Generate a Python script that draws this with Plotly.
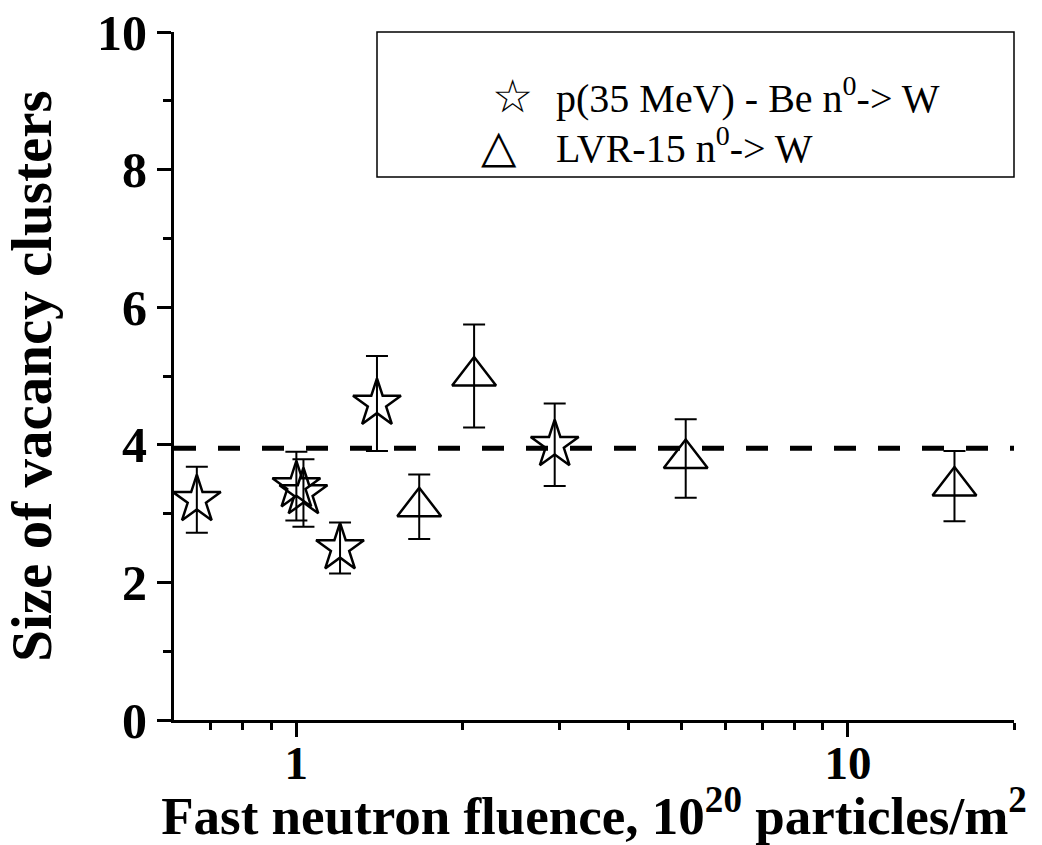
import math
import plotly.graph_objects as go

# ---- data ----
star_name = "p(35 MeV) - Be n<sup>0</sup>-&gt; W"
star_x = [0.66, 1.00, 1.03, 1.20, 1.40, 2.94]
star_y = [3.20, 3.40, 3.30, 2.50, 4.60, 4.00]
star_err = [0.48, 0.50, 0.49, 0.37, 0.69, 0.60]

tri_name = "LVR-15 n<sup>0</sup>-&gt; W"
tri_x = [1.67, 2.10, 5.08, 15.6]
tri_y = [3.10, 5.00, 3.80, 3.40]
tri_err = [0.47, 0.75, 0.57, 0.51]

ref_level = 3.95

x_range = [0.6, 20]
y_range = [0, 10]
x_major = [1, 10]
x_major_text = ["1", "10"]
x_minor = [0.7, 0.8, 0.9, 2, 3, 4, 5, 6, 7, 8, 9, 20]

x_title = "Fast neutron fluence, 10<sup>20</sup> particles/m<sup>2</sup>"
y_title = "Size of vacancy clusters"

FONT = "Liberation Serif"
W, H = 1042, 845
ML, MR, MT, MB = 174, 28, 32, 125
PW, PH = W - ML - MR, H - MT - MB


def px(xp):
    return (xp - ML) / PW


def py(yp):
    return 1 - (yp - MT) / PH


fig = go.Figure()

err_style = dict(type="data", thickness=2, width=11, color="black")

fig.add_trace(go.Scatter(
    x=star_x, y=star_y, mode="markers", name=star_name, showlegend=False,
    marker=dict(symbol="star-open", size=36, color="black",
                line=dict(width=2.5, color="black")),
    error_y=dict(array=star_err, **err_style),
))
fig.add_trace(go.Scatter(
    x=tri_x, y=tri_y, mode="markers", name=tri_name, showlegend=False,
    marker=dict(symbol="triangle-up-open", size=38, color="black",
                line=dict(width=2.5, color="black")),
    error_y=dict(array=tri_err, **err_style),
))

# dashed reference line
fig.add_shape(type="line", xref="paper", x0=0, x1=1, yref="y",
              y0=ref_level, y1=ref_level,
              line=dict(color="black", width=5, dash="22px,22px"))

# legend box
fig.add_shape(type="rect", xref="paper", yref="paper",
              x0=px(377), x1=1, y0=py(177), y1=1,
              line=dict(color="black", width=1.5), fillcolor="white",
              layer="above")

legend_rows = [("\u2606", star_name, 96, 512, 46), ("\u25B3", tri_name, 146, 499, 46)]
for sym, name, ypix, xsym, ssize in legend_rows:
    fig.add_annotation(x=px(xsym), y=py(ypix), xref="paper", yref="paper",
                       text=sym, showarrow=False, xanchor="center", yanchor="middle",
                       font=dict(family="DejaVu Sans", size=ssize, color="black"))
    fig.add_annotation(x=px(554), y=py(ypix), xref="paper", yref="paper",
                       text=name, showarrow=False, xanchor="left", yanchor="middle",
                       font=dict(family=FONT, size=40, color="black"))

lx0, lx1 = math.log10(x_range[0]), math.log10(x_range[1])

fig.update_layout(
    width=W, height=H,
    margin=dict(l=ML, r=MR, t=MT, b=MB, autoexpand=False),
    paper_bgcolor="white", plot_bgcolor="white",
    font=dict(family=FONT, color="black"),
    showlegend=False,
    xaxis=dict(
        type="log", range=[lx0, lx1], automargin=False,
        tickvals=x_major, ticktext=x_major_text,
        ticks="outside", ticklen=14, tickwidth=3, tickcolor="black",
        ticklabelstandoff=-14,
        minor=dict(tickvals=x_minor, ticks="outside", ticklen=7,
                   tickwidth=3, tickcolor="black", showgrid=False),
        showline=True, linewidth=3, linecolor="black",
        showgrid=False, zeroline=False,
        tickfont=dict(family=FONT, size=47, color="black", weight="bold"),
        title=dict(text=x_title, standoff=10,
                   font=dict(family=FONT, size=53, color="black", weight="bold")),
    ),
    xaxis2=dict(
        type="log", range=[lx0, lx1], overlaying="x", side="top", anchor="y",
        automargin=False,
        tickvals=x_major, ticks="inside", ticklen=14, tickwidth=3, tickcolor="black",
        minor=dict(tickvals=x_minor, ticks="inside", ticklen=7,
                   tickwidth=3, tickcolor="black", showgrid=False),
        showticklabels=False, showline=True, linewidth=3, linecolor="black",
        showgrid=False, zeroline=False,
    ),
    yaxis=dict(
        range=y_range, dtick=2, tick0=0, automargin=False,
        ticks="outside", ticklen=14, tickwidth=3, tickcolor="black",
        minor=dict(dtick=1, ticks="outside", ticklen=8, tickwidth=3,
                   tickcolor="black", showgrid=False),
        showline=True, linewidth=3, linecolor="black",
        showgrid=False, zeroline=False,
        tickfont=dict(family=FONT, size=50, color="black", weight="bold"),
        title=dict(text=y_title, standoff=30,
                   font=dict(family=FONT, size=57, color="black", weight="bold")),
    ),
    yaxis2=dict(
        range=y_range, overlaying="y", side="right", anchor="x",
        dtick=2, tick0=0, automargin=False,
        ticks="inside", ticklen=14, tickwidth=3, tickcolor="black",
        minor=dict(dtick=1, ticks="inside", ticklen=8, tickwidth=3,
                   tickcolor="black", showgrid=False),
        showticklabels=False, showline=True, linewidth=3, linecolor="black",
        showgrid=False, zeroline=False,
    ),
)

fig.write_html("out.html")
